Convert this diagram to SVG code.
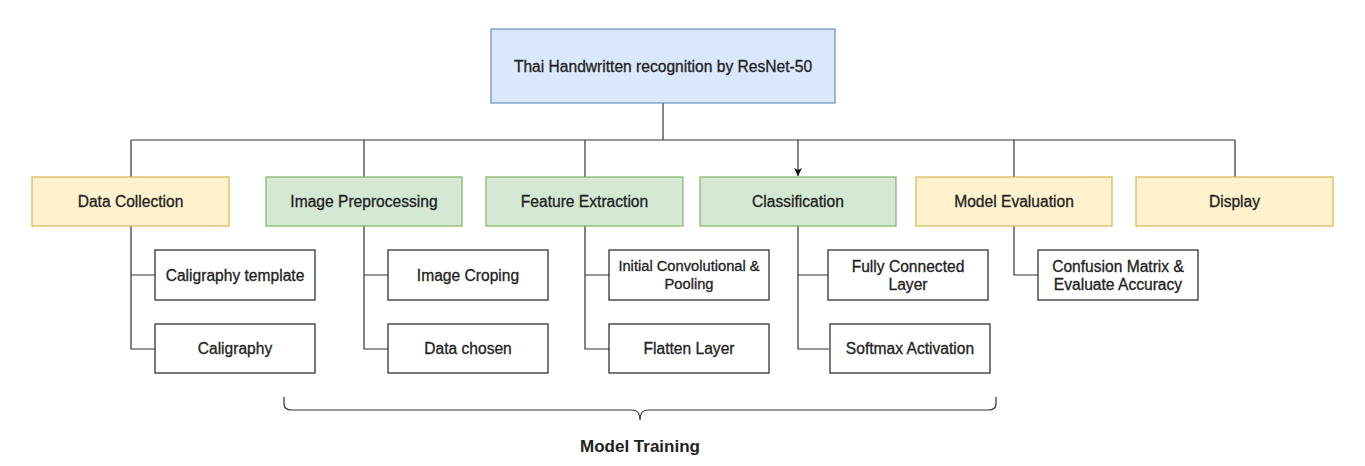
<svg xmlns="http://www.w3.org/2000/svg" width="1365" height="466" viewBox="0 0 1365 466">
<style>
text{font-family:"Liberation Sans",Arial,sans-serif;fill:#222;stroke:#222;stroke-width:0.3;text-anchor:middle;dominant-baseline:central}
.m{font-size:15.6px}
.c{font-size:15.6px}
.s{font-size:14.7px}
.blue{fill:#dae8fc;stroke:#6c8ebf;stroke-width:1.2}
.green{fill:#d5e8d4;stroke:#82b366;stroke-width:1.2}
.yellow{fill:#fff2cc;stroke:#d6b656;stroke-width:1.2}
.w{fill:#fff;stroke:#222;stroke-width:1.2}
.ln{fill:none;stroke:#333;stroke-width:1.2}
</style>
<defs>
<marker id="ah" viewBox="0 0 10 10" refX="10" refY="5" markerWidth="8" markerHeight="8" markerUnits="userSpaceOnUse" orient="auto">
<path d="M0,0 L10,5 L0,10 L2.5,5 Z" fill="#111"/>
</marker>
</defs>
<rect width="1365" height="466" fill="#fff"/>
<g id="connectors" class="ln">
<path d="M663,103 V140"/>
<path d="M131,140 H1235"/>
<path d="M131,140 V177"/>
<path d="M364,140 V177"/>
<path d="M585,140 V177"/>
<path d="M798,140 V176" marker-end="url(#ah)"/>
<path d="M1014,140 V177"/>
<path d="M1235,140 V177"/>
<path d="M131,226 V349 H155 M131,275 H155"/>
<path d="M364,226 V349 H388 M364,275 H388"/>
<path d="M585,226 V349 H609 M585,275 H609"/>
<path d="M798,226 V349 H829 M798,275 H828"/>
<path d="M1014,226 V275 H1038"/>
</g>
<g id="root"><rect class="blue" x="491" y="29" width="344" height="74"/><text class="m" x="663" y="66">Thai Handwritten recognition by ResNet-50</text></g>
<g id="data-collection"><rect class="yellow" x="32" y="177" width="197" height="49"/><text class="m" x="130.5" y="201">Data Collection</text></g>
<g id="image-preprocessing"><rect class="green" x="266" y="177" width="196" height="49"/><text class="m" x="364" y="201">Image Preprocessing</text></g>
<g id="feature-extraction"><rect class="green" x="486" y="177" width="197" height="49"/><text class="m" x="584.5" y="201">Feature Extraction</text></g>
<g id="classification"><rect class="green" x="700" y="177" width="196" height="49"/><text class="m" x="798" y="201">Classification</text></g>
<g id="model-evaluation"><rect class="yellow" x="916" y="177" width="196" height="49"/><text class="m" x="1014" y="201">Model Evaluation</text></g>
<g id="display"><rect class="yellow" x="1136" y="177" width="197" height="49"/><text class="m" x="1234.5" y="201">Display</text></g>
<g id="caligraphy-template"><rect class="w" x="155" y="250" width="160" height="50"/><text class="c" x="235" y="275">Caligraphy template</text></g>
<g id="caligraphy"><rect class="w" x="155" y="324" width="160" height="49"/><text class="c" x="235" y="348.5">Caligraphy</text></g>
<g id="image-croping"><rect class="w" x="388" y="250" width="160" height="50"/><text class="c" x="468" y="275">Image Croping</text></g>
<g id="data-chosen"><rect class="w" x="388" y="324" width="160" height="49"/><text class="c" x="468" y="348.5">Data chosen</text></g>
<g id="initial-conv"><rect class="w" x="609" y="250" width="160" height="50"/><text class="s" x="689" y="266">Initial Convolutional &amp;</text><text class="s" x="689" y="284">Pooling</text></g>
<g id="flatten-layer"><rect class="w" x="609" y="324" width="160" height="49"/><text class="c" x="689" y="348.5">Flatten Layer</text></g>
<g id="fully-connected"><rect class="w" x="828" y="250" width="160" height="50"/><text class="c" x="908" y="266">Fully Connected</text><text class="c" x="908" y="284">Layer</text></g>
<g id="softmax"><rect class="w" x="830" y="324" width="160" height="49"/><text class="c" x="910" y="348.5">Softmax Activation</text></g>
<g id="confusion-matrix"><rect class="w" x="1038" y="250" width="160" height="50"/><text class="c" x="1118" y="266">Confusion Matrix &amp;</text><text class="c" x="1118" y="284">Evaluate Accuracy</text></g>
<g id="model-training">
<path class="ln" d="M284,397 V404 Q284,410 292,410 H632 Q640,410 640,420 Q640,410 648,410 H988 Q996,410 996,404 V397"/>
<text x="640" y="446" style="font-size:17px;font-weight:bold;stroke-width:0">Model Training</text>
</g>
</svg>
